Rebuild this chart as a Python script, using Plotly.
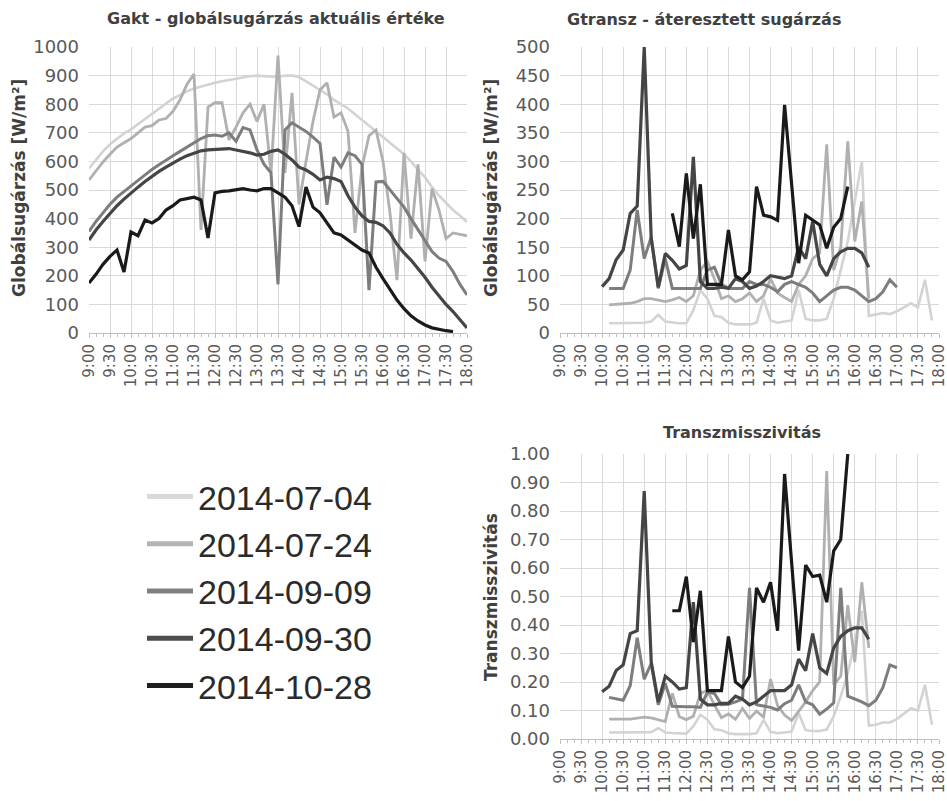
import plotly.graph_objects as go

TIMES = ["9:00","9:10","9:20","9:30","9:40","9:50",
         "10:00","10:10","10:20","10:30","10:40","10:50",
         "11:00","11:10","11:20","11:30","11:40","11:50",
         "12:00","12:10","12:20","12:30","12:40","12:50",
         "13:00","13:10","13:20","13:30","13:40","13:50",
         "14:00","14:10","14:20","14:30","14:40","14:50",
         "15:00","15:10","15:20","15:30","15:40","15:50",
         "16:00","16:10","16:20","16:30","16:40","16:50",
         "17:00","17:10","17:20","17:30","17:40","17:50","18:00"]
TICK_LABELS = ["9:00","9:30","10:00","10:30","11:00","11:30","12:00","12:30","13:00",
               "13:30","14:00","14:30","15:00","15:30","16:00","16:30","17:00","17:30","18:00"]

SERIES = ["2014-07-04", "2014-07-24", "2014-09-09", "2014-09-30", "2014-10-28"]
N = None

# Gakt - global radiation [W/m2]
gakt_0704 = [575,605,635,660,680,698,712,730,748,765,782,800,820,832,845,855,862,868,875,880,885,890,895,898,900,898,895,895,900,900,895,880,865,850,835,815,800,785,765,745,725,705,685,665,645,625,600,570,545,510,480,455,430,410,388]
gakt_0724 = [535,568,598,625,650,665,680,700,720,725,745,750,775,815,870,905,360,790,805,805,675,720,770,800,740,800,560,970,560,840,450,600,740,850,875,755,770,705,350,580,690,710,600,420,185,630,330,590,250,505,430,330,350,345,340]
gakt_0909 = [355,390,420,450,475,495,515,535,555,572,588,605,620,635,650,668,680,690,692,688,700,670,718,710,640,590,560,170,710,735,720,705,685,663,448,615,580,630,620,590,150,528,530,500,470,440,400,360,320,285,262,250,215,170,133]
gakt_0930 = [325,360,390,418,445,468,490,510,530,548,565,580,595,608,620,630,637,640,642,645,645,640,635,630,622,625,635,640,625,605,580,570,555,535,545,540,530,480,440,410,390,387,375,350,310,280,255,225,195,160,130,100,75,45,18]
gakt_1028 = [175,205,240,268,290,213,353,340,395,385,400,430,445,465,470,475,465,332,490,495,497,500,505,500,497,505,505,490,475,445,372,510,440,420,385,350,343,325,305,290,280,230,190,150,115,85,60,42,28,18,12,8,5,N,N]

# Gtransz - transmitted radiation [W/m2]
gtr_0704 = [N,N,N,N,N,N,N,17,17,17,18,18,18,20,32,20,18,17,17,40,75,60,30,28,18,15,15,15,18,60,22,18,20,22,75,25,22,22,25,60,110,160,230,300,30,32,35,33,38,45,52,45,93,22,N]
gtr_0724 = [N,N,N,N,N,N,N,49,50,51,52,55,60,60,58,55,58,62,55,65,110,125,95,60,65,55,60,70,55,65,95,70,62,55,85,100,130,140,330,110,150,335,160,230,60,N,N,N,N,N,N,N,N,N,N]
gtr_0909 = [N,N,N,N,N,N,N,78,78,78,110,215,130,168,78,130,78,78,78,78,78,110,115,85,78,78,78,90,85,85,80,72,85,90,85,80,70,55,65,75,80,80,75,65,55,60,72,93,80,N,N,N,N,N,N]
gtr_0930 = [N,N,N,N,N,N,81,95,128,145,209,222,500,165,80,139,127,112,118,308,90,78,78,80,78,95,90,78,82,90,100,98,95,100,150,130,195,120,100,130,142,148,148,140,115,N,N,N,N,N,N,N,N,N,N]
gtr_1028 = [N,N,N,N,N,N,N,N,N,N,N,N,N,N,N,N,209,151,279,165,260,85,85,85,180,100,93,107,256,206,203,197,399,260,122,206,197,189,148,185,200,256,N,N,N,N,N,N,N,N,N,N,N,N,N]

# Transzmisszivitás [-]
tr_0704 = [N,N,N,N,N,N,N,0.023,0.023,0.022,0.023,0.022,0.022,0.024,0.038,0.023,0.021,0.020,0.019,0.045,0.085,0.068,0.034,0.031,0.020,0.017,0.017,0.017,0.020,0.067,0.025,0.020,0.023,0.026,0.090,0.031,0.028,0.028,0.033,0.080,0.150,0.230,0.340,0.450,0.047,0.050,0.058,0.058,0.070,0.088,0.108,0.100,0.190,0.050,N]
tr_0724 = [N,N,N,N,N,N,N,0.070,0.069,0.070,0.070,0.073,0.077,0.074,0.067,0.061,0.160,0.078,0.068,0.080,0.160,0.170,0.120,0.075,0.088,0.069,0.107,0.072,0.098,0.077,0.210,0.117,0.084,0.065,0.097,0.130,0.170,0.200,0.940,0.190,0.220,0.470,0.270,0.550,0.320,N,N,N,N,N,N,N,N,N,N]
tr_0909 = [N,N,N,N,N,N,N,0.146,0.140,0.136,0.187,0.355,0.210,0.265,0.120,0.195,0.115,0.113,0.113,0.113,0.111,0.164,0.160,0.120,0.122,0.130,0.140,0.530,0.120,0.116,0.111,0.102,0.124,0.136,0.190,0.130,0.120,0.087,0.105,0.127,0.530,0.150,0.140,0.130,0.117,0.136,0.180,0.260,0.250,N,N,N,N,N,N]
tr_0930 = [N,N,N,N,N,N,0.166,0.185,0.240,0.260,0.370,0.380,0.870,0.270,0.130,0.220,0.200,0.175,0.180,0.480,0.140,0.120,0.120,0.125,0.125,0.150,0.140,0.120,0.130,0.150,0.170,0.170,0.170,0.190,0.280,0.240,0.370,0.250,0.230,0.320,0.360,0.380,0.390,0.390,0.350,N,N,N,N,N,N,N,N,N,N]
tr_1028 = [N,N,N,N,N,N,N,N,N,N,N,N,N,N,N,N,0.450,0.450,0.570,0.340,0.520,0.170,0.170,0.170,0.360,0.200,0.180,0.220,0.530,0.480,0.550,0.380,0.930,0.620,0.310,0.610,0.570,0.575,0.480,0.660,0.700,1.000,N,N,N,N,N,N,N,N,N,N,N,N,N]

COLORS = ["#d3d3d3", "#b0b0b0", "#7d7d7d", "#454545", "#1a1a1a"]
LEGEND_COLORS = ["#d9d9d9", "#b4b4b4", "#808080", "#4d4d4d", "#1e1e1e"]
WIDTHS = [2.6, 2.8, 3.0, 3.2, 3.2]

W, H = 947, 801
def px(x): return x / W
def py(y): return 1 - y / H

X_DOM_L = [px(89), px(467)]
X_DOM_R = [px(560), px(939)]
Y_DOM_T = [py(333), py(47)]
Y_DOM_B = [py(739), py(454)]

xpos = list(range(len(TIMES)))
tickpos = [TIMES.index(t) for t in TICK_LABELS]

fig = go.Figure()
panels = [
    ("x", "y", [gakt_0704, gakt_0724, gakt_0909, gakt_0930, gakt_1028]),
    ("x2", "y2", [gtr_0704, gtr_0724, gtr_0909, gtr_0930, gtr_1028]),
    ("x3", "y3", [tr_0704, tr_0724, tr_0909, tr_0930, tr_1028]),
]
for xa, ya, data in panels:
    for k, vals in enumerate(data):
        fig.add_trace(go.Scatter(
            x=xpos, y=vals, xaxis=xa, yaxis=ya, mode="lines",
            name=SERIES[k], showlegend=False, connectgaps=False,
            line=dict(color=COLORS[k], width=WIDTHS[k]),
            customdata=[TIMES[i] for i in xpos],
            hovertemplate="%{customdata}: %{y}<extra>" + SERIES[k] + "</extra>",
        ))

# legend entries
for k, s in enumerate(SERIES):
    fig.add_trace(go.Scatter(x=[None], y=[None], mode="lines", name=s,
                             line=dict(color=LEGEND_COLORS[k], width=5),
                             showlegend=True))

GRID = "#d9d9d9"
TICKC = "#595959"
FONT = "DejaVu Sans"

def xaxis_cfg(dom, anchor):
    return dict(domain=dom, anchor=anchor, range=[0, len(TIMES) - 1],
                tickmode="array", tickvals=tickpos, ticktext=TICK_LABELS,
                tickangle=-90, showgrid=True, gridcolor=GRID, gridwidth=1,
                zeroline=False, showline=True, linecolor="#bfbfbf", linewidth=1,
                ticks="outside", ticklen=4, tickcolor="#bfbfbf",
                minor=dict(tickmode="linear", tick0=0, dtick=1, ticks="outside",
                           ticklen=3, tickcolor="#bfbfbf", showgrid=False),
                tickfont=dict(family=FONT, size=15, color=TICKC),
                ticklabeloverflow="allow",
                automargin=False, fixedrange=True)

def yaxis_cfg(dom, anchor, rng, dtick, fmt=None):
    d = dict(domain=dom, anchor=anchor, range=rng, dtick=dtick, tick0=0,
             showgrid=True, gridcolor=GRID, gridwidth=1, zeroline=False,
             showline=False, ticks="", ticklabelstandoff=9,
             tickfont=dict(family=FONT, size=18, color=TICKC),
             ticklabeloverflow="allow",
             automargin=False, fixedrange=True)
    if fmt:
        d["tickformat"] = fmt
    return d

fig.update_layout(
    width=W, height=H,
    margin=dict(l=0, r=0, t=0, b=0),
    paper_bgcolor="white", plot_bgcolor="white",
    xaxis=xaxis_cfg(X_DOM_L, "y"),
    yaxis=yaxis_cfg(Y_DOM_T, "x", [0, 1000], 100),
    xaxis2=xaxis_cfg(X_DOM_R, "y2"),
    yaxis2=yaxis_cfg(Y_DOM_T, "x2", [0, 500], 50),
    xaxis3=xaxis_cfg(X_DOM_R, "y3"),
    yaxis3=yaxis_cfg(Y_DOM_B, "x3", [0, 1.0], 0.1, ".2f"),
    showlegend=True,
    legend=dict(x=px(142), y=py(468), xanchor="left", yanchor="top",
                font=dict(family="Liberation Sans", size=34, color="#2b2b2b"),
                bgcolor="rgba(0,0,0,0)", borderwidth=0, tracegroupgap=0,
                itemwidth=46),
    font=dict(family=FONT, color="#404040"),
)

TITLE_FONT = dict(family=FONT, size=16, color="#404040", weight="bold")
ann = [
    dict(text="Gakt - globálsugárzás aktuális értéke", x=px(276), y=py(19)),
    dict(text="Gtransz - áteresztett sugárzás", x=px(704), y=py(20)),
    dict(text="Transzmisszivitás", x=px(742), y=py(432)),
]
for a in ann:
    fig.add_annotation(xref="paper", yref="paper", showarrow=False,
                       xanchor="center", yanchor="middle", font=TITLE_FONT, **a)

YT_FONT = dict(family=FONT, size=17, color="#404040", weight="bold")
for text, x, y in [("Globálsugárzás [W/m²]", 19, 188),
                   ("Globálsugárzás [W/m²]", 491, 188),
                   ("Transzmisszivitás", 491, 597)]:
    fig.add_annotation(xref="paper", yref="paper", showarrow=False, text=text,
                       x=px(x), y=py(y), xanchor="center", yanchor="middle",
                       textangle=-90, font=YT_FONT)

fig.write_html("out.html",
               config={"displayModeBar": False},
               post_script="document.body.style.margin='0';document.body.style.overflow='hidden';")
